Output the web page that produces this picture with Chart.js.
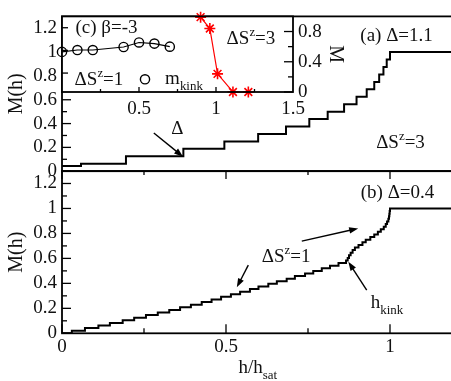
<!DOCTYPE html>
<html>
<head>
<meta charset="utf-8">
<script src="https://cdn.jsdelivr.net/npm/chart.js@4/dist/chart.umd.min.js"></script>
<style>
body { margin: 0; background: #fff; overflow: hidden; }
#wrap { position: relative; width: 451px; height: 381px; overflow: hidden; }
#wrap canvas { position: absolute; left: 0; top: 0; }
</style>
</head>
<body>
<div id="wrap">
<canvas id="pa" width="470" height="381"></canvas>
<canvas id="pb" width="470" height="381"></canvas>
<canvas id="pc" width="470" height="381"></canvas>
</div>
<script>
var FONT = "'Liberation Serif', 'DejaVu Serif', serif";
var INK = '#111';

// (a) Delta=1.1, plateaus with dS^z=3 : field where each step starts, and its M
var hA = [0, 0.058, 0.195, 0.370, 0.495, 0.598, 0.683, 0.754, 0.810, 0.860, 0.898, 0.929, 0.952, 0.967, 0.980, 0.990, 1.0, 1.2];
var mA = [0.044, 0.0625, 0.125, 0.1875, 0.25, 0.3125, 0.375, 0.4375, 0.5, 0.5625, 0.625, 0.6875, 0.75, 0.8125, 0.875, 0.9375, 1.0, 1.0];

// (b) Delta=0.4, steps with dS^z=1
var hB = [0, 0.030, 0.070, 0.111, 0.146, 0.185, 0.220, 0.256, 0.292, 0.327, 0.360, 0.393, 0.426, 0.456, 0.485, 0.515,
  0.543, 0.573, 0.599, 0.629, 0.655, 0.685, 0.710, 0.741, 0.766, 0.792, 0.817, 0.843, 0.866,
  0.871, 0.875, 0.880, 0.886, 0.893, 0.904, 0.916, 0.926, 0.940, 0.952, 0.963, 0.972, 0.981, 0.987, 0.991, 0.995,
  0.997, 0.998, 0.999, 1.0, 1.2];
var mB = [0, 0.021, 0.042, 0.0625, 0.083, 0.104, 0.125, 0.146, 0.167, 0.1875, 0.208, 0.229, 0.25, 0.271, 0.292, 0.3125,
  0.333, 0.354, 0.375, 0.396, 0.417, 0.4375, 0.458, 0.479, 0.5, 0.521, 0.542, 0.5625, 0.583,
  0.604, 0.625, 0.646, 0.667, 0.6875, 0.708, 0.729, 0.75, 0.771, 0.792, 0.8125, 0.833, 0.854, 0.875, 0.896, 0.917,
  0.9375, 0.958, 0.979, 1.0, 1.0];

// (c) inset, beta=-3
var hKink = [0, 0.1, 0.2, 0.4, 0.5, 0.6, 0.7];
var mKink = [0.987, 1.003, 1.003, 1.03, 1.07, 1.06, 1.033];
var hM3 = [0.90, 0.96, 1.01, 1.11, 1.21];
var mM3 = [0.99, 0.84, 0.24, 0, 0];

function pts(xs, ys) {
  return xs.map(function(x, i) { return {x: x, y: ys[i]}; });
}

function num(v) {
  return String(+(+v).toFixed(2));
}

function rich(ctx, parts, px, py, size) {
  // parts: [text, 0 normal | 1 superscript | -1 subscript], centred on px, py
  var w = 0;
  parts.forEach(function(p) {
    ctx.font = (p[1] ? size * 0.68 : size) + 'px ' + FONT;
    w += ctx.measureText(p[0]).width;
  });
  var x = px - w / 2, base = py + size * 0.33;
  ctx.textAlign = 'left';
  ctx.textBaseline = 'alphabetic';
  ctx.fillStyle = INK;
  parts.forEach(function(p) {
    ctx.font = (p[1] ? size * 0.68 : size) + 'px ' + FONT;
    var dy = p[1] == 1 ? -size * 0.42 : (p[1] == -1 ? size * 0.32 : 0);
    ctx.fillText(p[0], x, base + dy);
    x += ctx.measureText(p[0]).width;
  });
}

function arrow(ctx, x1, y1, x2, y2) {
  var ang = Math.atan2(y2 - y1, x2 - x1), L = 9, W = 3.2;
  ctx.strokeStyle = '#000';
  ctx.fillStyle = '#000';
  ctx.lineWidth = 1.4;
  ctx.beginPath();
  ctx.moveTo(x1, y1);
  ctx.lineTo(x2 - L * 0.8 * Math.cos(ang), y2 - L * 0.8 * Math.sin(ang));
  ctx.stroke();
  ctx.beginPath();
  ctx.moveTo(x2, y2);
  ctx.lineTo(x2 - L * Math.cos(ang) + W * Math.sin(ang), y2 - L * Math.sin(ang) - W * Math.cos(ang));
  ctx.lineTo(x2 - L * Math.cos(ang) - W * Math.sin(ang), y2 - L * Math.sin(ang) + W * Math.cos(ang));
  ctx.closePath();
  ctx.fill();
}

// inward ticks and the frame of a panel
function frameTicks(specs) {
  return {
    id: 'frameTicks',
    afterDatasetsDraw: function(chart) {
      var ctx = chart.ctx, a = chart.chartArea;
      ctx.save();
      ctx.strokeStyle = '#000';
      ctx.lineWidth = 1.8;
      ctx.strokeRect(a.left, a.top, a.right - a.left, a.bottom - a.top);
      ctx.lineWidth = 1.3;
      specs.forEach(function(s) {
        var sc = chart.scales[s.scale];
        s.values.forEach(function(v) {
          var p = sc.getPixelForValue(v);
          ctx.beginPath();
          if (s.side == 'left') { ctx.moveTo(a.left, p); ctx.lineTo(a.left + s.len, p); }
          if (s.side == 'right') { ctx.moveTo(a.right, p); ctx.lineTo(a.right - s.len, p); }
          if (s.side == 'bottom') { ctx.moveTo(p, a.bottom); ctx.lineTo(p, a.bottom - s.len); }
          if (s.side == 'top') { ctx.moveTo(p, a.top); ctx.lineTo(p, a.top + s.len); }
          ctx.stroke();
        });
      });
      ctx.restore();
    }
  };
}

var yMajor = [0, 0.2, 0.4, 0.6, 0.8, 1.0, 1.2];
var yMinor = [0.1, 0.3, 0.5, 0.7, 0.9, 1.1];
var xMajor = [0, 0.5, 1.0];
var xMinor = [0.25, 0.75];

var tickFont = {family: FONT, size: 19};

function yAxis() {
  return {
    min: 0, max: 1.3,
    afterFit: function(s) { s.width = 62; },
    grid: {display: false, drawTicks: false},
    border: {display: false},
    ticks: {stepSize: 0.2, includeBounds: false, padding: 5, font: tickFont, color: INK, callback: num},
    title: {display: true, text: 'M(h)', color: INK, font: {family: FONT, size: 20}, padding: {top: 5, bottom: 0}}
  };
}

var base = {
  responsive: false,
  animation: false,
  devicePixelRatio: 1,
  plugins: {legend: {display: false}, tooltip: {enabled: false}}
};

// panel (a)
new Chart(document.getElementById('pa'), {
  type: 'line',
  data: {datasets: [{
    data: pts(hA, mA), stepped: 'before', borderColor: '#000', borderWidth: 2,
    pointRadius: 0, fill: false
  }]},
  options: Object.assign({}, base, {
    layout: {padding: {left: 0, top: 8, right: 14.4, bottom: 209.8}},
    scales: {
      x: {type: 'linear', min: 0, max: 1.2, display: false},
      y: yAxis()
    }
  }),
  plugins: [frameTicks([
    {scale: 'y', side: 'left', values: yMajor, len: 9},
    {scale: 'y', side: 'left', values: yMinor, len: 5}
  ]), {
    id: 'notesA',
    afterDraw: function(chart) {
      var ctx = chart.ctx, x = chart.scales.x, y = chart.scales.y;
      ctx.save();
      rich(ctx, [['(a) \u0394=1.1', 0]], x.getPixelForValue(1.020), y.getPixelForValue(1.149), 19);
      rich(ctx, [['\u0394S', 0], ['z', 1], ['=3', 0]], x.getPixelForValue(1.032), y.getPixelForValue(0.245), 19);
      rich(ctx, [['\u0394', 0]], x.getPixelForValue(0.352), y.getPixelForValue(0.364), 19);
      arrow(ctx, x.getPixelForValue(0.280), y.getPixelForValue(0.321), x.getPixelForValue(0.369), y.getPixelForValue(0.122));
      ctx.restore();
    }
  }]
});

// panel (b)
new Chart(document.getElementById('pb'), {
  type: 'line',
  data: {datasets: [{
    data: pts(hB, mB), stepped: 'before', borderColor: '#000', borderWidth: 2,
    pointRadius: 0, fill: false
  }]},
  options: Object.assign({}, base, {
    layout: {padding: {left: 0, top: 171, right: 14.4, bottom: 0}},
    scales: {
      x: {
        type: 'linear', min: 0, max: 1.2,
        afterFit: function(s) { s.height = 47.7; },
        grid: {display: false, drawTicks: false},
        border: {display: false},
        ticks: {stepSize: 0.5, includeBounds: false, padding: 2, font: tickFont, color: INK, maxRotation: 0, callback: num}
      },
      y: yAxis()
    }
  }),
  plugins: [frameTicks([
    {scale: 'y', side: 'left', values: yMajor, len: 9},
    {scale: 'y', side: 'left', values: yMinor, len: 5},
    {scale: 'x', side: 'bottom', values: xMajor, len: 9},
    {scale: 'x', side: 'bottom', values: xMinor, len: 5},
    {scale: 'x', side: 'top', values: xMajor, len: 8},
    {scale: 'x', side: 'top', values: xMinor, len: 4}
  ]), {
    id: 'notesB',
    afterDraw: function(chart) {
      var ctx = chart.ctx, x = chart.scales.x, y = chart.scales.y;
      ctx.save();
      rich(ctx, [['(b) \u0394=0.4', 0]], x.getPixelForValue(1.023), y.getPixelForValue(1.13), 19);
      rich(ctx, [['\u0394S', 0], ['z', 1], ['=1', 0]], x.getPixelForValue(0.683), y.getPixelForValue(0.621), 19);
      rich(ctx, [['h', 0], ['kink', -1]], x.getPixelForValue(0.991), y.getPixelForValue(0.25), 19);
      arrow(ctx, x.getPixelForValue(0.731), y.getPixelForValue(0.738), x.getPixelForValue(0.903), y.getPixelForValue(0.84));
      arrow(ctx, x.getPixelForValue(0.568), y.getPixelForValue(0.546), x.getPixelForValue(0.533), y.getPixelForValue(0.368));
      arrow(ctx, x.getPixelForValue(0.929), y.getPixelForValue(0.346), x.getPixelForValue(0.873), y.getPixelForValue(0.573));
      // x axis title
      rich(ctx, [['h/h', 0], ['sat', -1]], x.getPixelForValue(0.597), 366.5, 19);
      ctx.restore();
    }
  }]
});

// inset (c)
new Chart(document.getElementById('pc'), {
  type: 'line',
  data: {datasets: [{
    data: pts(hKink, mKink), yAxisID: 'yL', borderColor: '#000', borderWidth: 1.1,
    pointStyle: 'circle', pointRadius: 4.6, pointBorderWidth: 1.4,
    pointBorderColor: '#000', pointBackgroundColor: 'rgba(0,0,0,0)', fill: false, clip: false
  }, {
    data: pts(hM3, mM3), yAxisID: 'yR', borderColor: '#ff0000', borderWidth: 1.2,
    pointStyle: 'star', pointRadius: 5.5, pointBorderWidth: 1.6,
    pointBorderColor: '#ff0000', pointBackgroundColor: '#ff0000', fill: false, clip: false
  }]},
  options: Object.assign({}, base, {
    layout: {padding: {left: 62, top: 8, right: 117, bottom: 259}},
    scales: {
      x: {
        type: 'linear', min: 0, max: 1.5,
        afterFit: function(s) { s.height = 30; },
        grid: {display: false, drawTicks: false},
        border: {display: false},
        ticks: {stepSize: 0.5, includeBounds: false, padding: 6, font: tickFont, color: INK, maxRotation: 0,
          callback: function(v) { return v === 0 ? '' : num(v); }}
      },
      yL: {position: 'left', min: 0.633, max: 1.3, display: false},
      yR: {
        position: 'right', min: 0, max: 1.0,
        afterFit: function(s) { s.width = 60; },
        grid: {display: false, drawTicks: false},
        border: {display: false},
        ticks: {stepSize: 0.4, includeBounds: false, padding: 5, font: tickFont, color: INK, callback: num},
        title: {display: true, text: 'M', color: INK, font: {family: FONT, size: 20}, padding: {top: 6, bottom: 0}}
      }
    }
  }),
  plugins: [{
    id: 'insetBg',
    beforeDraw: function(chart) {
      var a = chart.chartArea, ctx = chart.ctx;
      ctx.save();
      ctx.fillStyle = '#fff';
      ctx.fillRect(a.left, a.top, a.right - a.left, a.bottom - a.top);
      ctx.restore();
    }
  }, frameTicks([
    {scale: 'x', side: 'bottom', values: [0.5, 1.0], len: 5},
    {scale: 'x', side: 'bottom', values: [0.25, 0.75, 1.25], len: 3},
    {scale: 'yR', side: 'right', values: [0, 0.4, 0.8], len: 9},
    {scale: 'yR', side: 'right', values: [0.2, 0.6], len: 5},
    {scale: 'yL', side: 'left', values: [0.8, 1.0, 1.2], len: 6}
  ]), {
    id: 'notesC',
    afterDraw: function(chart) {
      var ctx = chart.ctx, x = chart.scales.x, yL = chart.scales.yL, yR = chart.scales.yR;
      ctx.save();
      rich(ctx, [['(c) \u03b2=-3', 0]], x.getPixelForValue(0.289), yL.getPixelForValue(1.209), 19);
      rich(ctx, [['\u0394S', 0], ['z', 1], ['=1', 0]], x.getPixelForValue(0.24), yL.getPixelForValue(0.747), 19);
      rich(ctx, [['m', 0], ['kink', -1]], x.getPixelForValue(0.792), yL.getPixelForValue(0.76), 19);
      rich(ctx, [['\u0394S', 0], ['z', 1], ['=3', 0]], x.getPixelForValue(1.227), yR.getPixelForValue(0.718), 19);
      ctx.strokeStyle = '#000';
      ctx.lineWidth = 1.4;
      ctx.beginPath();
      ctx.arc(x.getPixelForValue(0.539), yL.getPixelForValue(0.745), 4.6, 0, Math.PI * 2);
      ctx.stroke();
      ctx.restore();
    }
  }]
});
</script>
</body>
</html>
